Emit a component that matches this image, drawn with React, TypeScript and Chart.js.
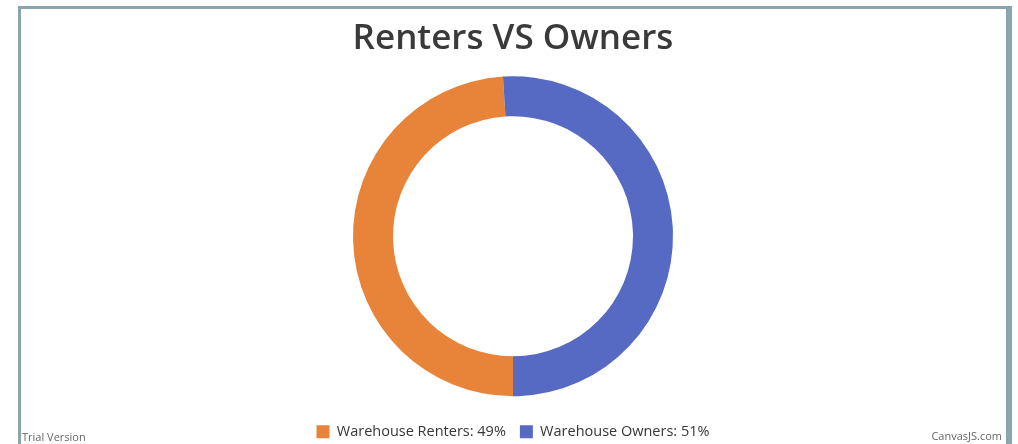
import React, { useEffect, useRef } from "react";
import { Chart, registerables } from "chart.js";

Chart.register(...registerables);

const titleText = "Renters VS Owners";
const categories = ["Warehouse Renters", "Warehouse Owners"];
const values = [49, 51];
const colors = ["#E8833A", "#566AC4"];

export default function App() {
  const ref = useRef<HTMLCanvasElement | null>(null);

  useEffect(() => {
    if (!ref.current) return;
    const chart = new Chart(ref.current, {
      type: "doughnut",
      data: {
        labels: categories.map((c, i) => `${c}: ${values[i]}%`),
        datasets: [
          {
            data: values,
            backgroundColor: colors,
            borderWidth: 0,
            radius: 160,
          } as any,
        ],
      },
      options: {
        responsive: false,
        animation: false,
        rotation: 180,
        cutout: "75%",
        layout: { padding: { top: 18, bottom: -5, left: 8, right: 0 } },
        plugins: {
          title: {
            display: true,
            text: titleText,
            color: "#3a3a3a",
            font: { family: "Open Sans", size: 35, weight: "600" },
            padding: { top: 0, bottom: 2 },
          },
          legend: {
            display: true,
            position: "bottom",
            labels: {
              boxWidth: 13,
              boxHeight: 13,
              padding: 14,
              color: "#363636",
              font: { family: "Open Sans", size: 14.5 },
            },
          },
          tooltip: { enabled: false },
        },
      } as any,
    });
    return () => chart.destroy();
  }, []);

  return (
    <div
      style={{
        position: "absolute",
        left: 0,
        top: 0,
        width: 1018,
        height: 444,
        overflow: "hidden",
        background: "#ffffff",
      }}
    >
      <div
        style={{
          position: "absolute",
          left: 18,
          top: 6,
          width: 994,
          height: 480,
          borderTop: "3px solid #8BA5AE",
          borderLeft: "3px solid #8BA5AE",
          borderRight: "6px solid #8BA5AE",
          boxSizing: "border-box",
        }}
      />
      <canvas
        ref={ref}
        width={1018}
        height={444}
        style={{ position: "absolute", left: 0, top: 0 }}
      />
      <span
        style={{
          position: "absolute",
          left: 22,
          top: 429,
          font: "11px 'Open Sans', sans-serif",
          color: "#666666",
          whiteSpace: "nowrap",
        }}
      >
        Trial Version
      </span>
      <span
        style={{
          position: "absolute",
          right: 16,
          top: 428,
          font: "11px 'Open Sans', sans-serif",
          color: "#666666",
          whiteSpace: "nowrap",
        }}
      >
        CanvasJS.com
      </span>
    </div>
  );
}
